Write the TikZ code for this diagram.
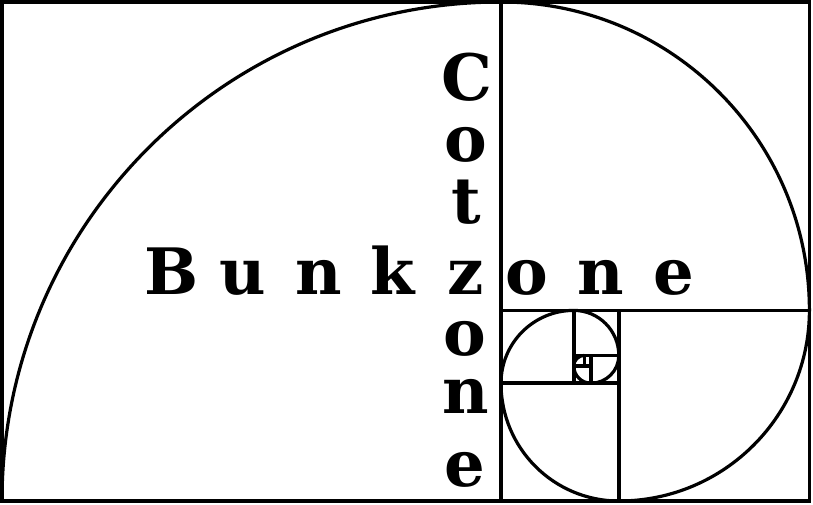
\documentclass[tikz,border=0pt]{standalone}
\usepackage{fontspec}
\newfontfamily\decofont{DejaVu Serif}
\begin{document}
\begin{tikzpicture}[
    x=1pt, y=1pt,
    frame/.style={draw=black, line width=3.8pt},
    spiral/.style={draw=black, line width=3.2pt},
    letter/.style={anchor=base, inner sep=0pt, font=\decofont\bfseries\fontsize{64}{64}\selectfont}
]
  \useasboundingbox (0,0) rectangle (813,504);

  \begin{scope}[shift={(2,3)}]
    % golden squares
    \draw[frame] (0,0) rectangle (807.4,499);
    \draw[frame] (499,0) -- (499,499);
    \draw[frame] (499,190.6) -- (807.4,190.6);
    \draw[frame] (616.8,0) -- (616.8,190.6);
    \draw[frame] (499,117.8) -- (616.8,117.8);
    \draw[frame] (571.8,117.8) -- (571.8,190.6);
    \draw[frame] (571.8,145.6) -- (616.8,145.6);
    \draw[frame] (589,117.8) -- (589,145.6);
    \draw[frame] (571.8,135) -- (589,135);
    \draw[frame] (582.4,135) -- (582.4,145.6);

    % spiral
    \draw[spiral] (0,0) arc[start angle=180, end angle=90, radius=499]
      arc[start angle=90, end angle=0, radius=308.4]
      arc[start angle=0, end angle=-90, radius=190.6]
      arc[start angle=-90, end angle=-180, radius=117.8]
      arc[start angle=180, end angle=90, radius=72.8]
      arc[start angle=90, end angle=0, radius=45]
      arc[start angle=0, end angle=-90, radius=27.8]
      arc[start angle=-90, end angle=-180, radius=17.2]
      arc[start angle=180, end angle=90, radius=10.6];
  \end{scope}

  % Bunkzone
  \node[letter] (hb)  at (172,210) {B};
  \node[letter] (hu)  at (243,210) {u};
  \node[letter] (hn)  at (319,210) {n};
  \node[letter] (hk)  at (393,210) {k};
  \node[letter] (z)   at (466,210) {z};
  \node[letter] (ho)  at (527,210) {o};
  \node[letter] (hn2) at (601,210) {n};
  \node[letter] (he)  at (674,210) {e};

  % Cotzone
  \node[letter] (vc)  at (467,403) {C};
  \node[letter] (vo)  at (466,342) {o};
  \node[letter] (vt)  at (466,280) {t};
  \node[letter] (vo2) at (465,149) {o};
  \node[letter] (vn)  at (466,91) {n};
  \node[letter] (ve)  at (465,18) {e};
\end{tikzpicture}
\end{document}
